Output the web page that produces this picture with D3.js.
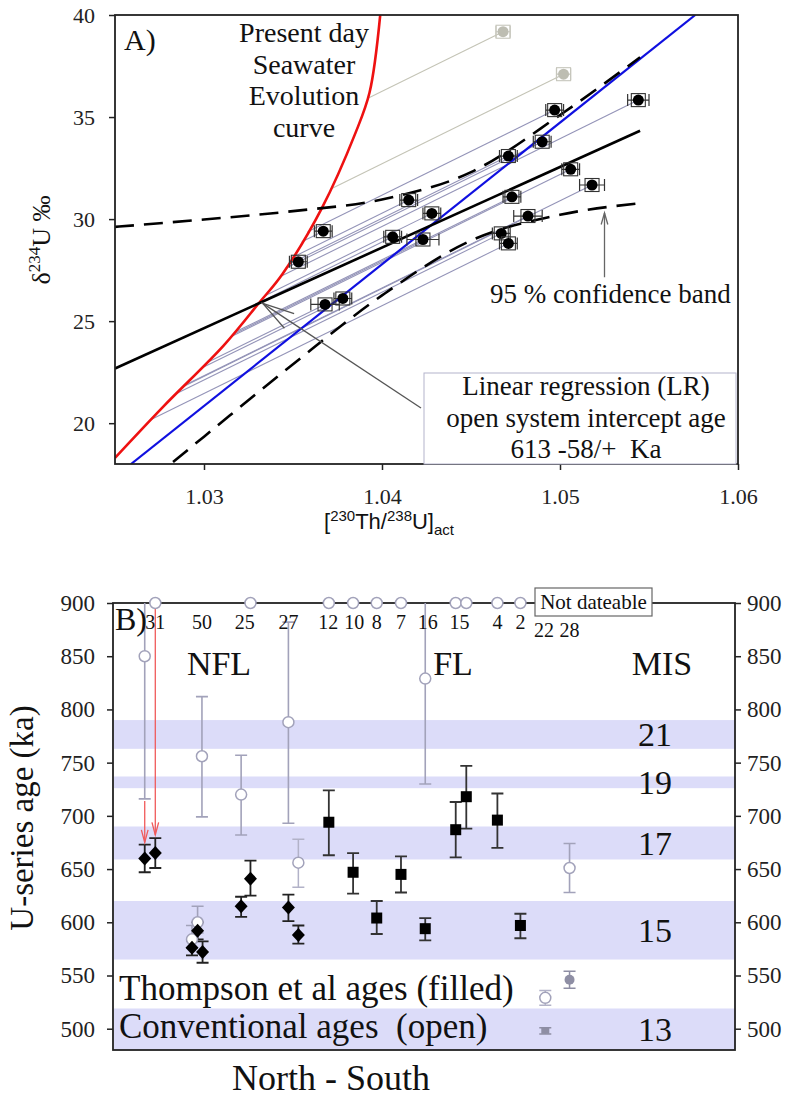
<!DOCTYPE html>
<html>
<head>
<meta charset="utf-8">
<title>Open system U-series ages</title>
<style>
  body { margin: 0; background: #fff; }
  svg { font-family: "Liberation Serif", "Times New Roman", serif; fill: #111; }
  .axis text { font-size: 22px; font-family: "Liberation Serif", serif; fill: #222; }
  .axisB text { font-size: 23px; }
  .axis line { stroke: #222; stroke-width: 1.5; }
  .axis path { display: none; }
  .frame { fill: none; stroke: #222; stroke-width: 1.8; }
</style>
</head>
<body>
<div id="chart"></div>
<script src="https://d3js.org/d3.v7.min.js"></script>
<script>
var width = 793, height = 1097;

// ---------- panel A data ([230Th/238U]act, d234U) ----------
var seawaterCurve = [[1.025, 18.3], [1.0277, 20.8], [1.0311, 23.8], [1.0331, 25.9], [1.0344, 27.3],
                     [1.0366, 30.5], [1.0385, 34.2], [1.0393, 36.2], [1.0399, 40]];
var lrLine = [[1.025, 22.68], [1.0545, 34.33]];
var blueLine = [[1.0259, 18.0], [1.0576, 40]];
var bandUpper = [[1.025, 29.62], [1.030, 29.98], [1.035, 30.39], [1.040, 30.96], [1.045, 32.3], [1.050, 35.1], [1.0545, 37.93]];
var bandLower = [[1.027, 17.2], [1.030, 19.34], [1.035, 22.89], [1.040, 26.26], [1.045, 28.95], [1.050, 30.21], [1.0545, 30.78]];
var evolutionSlope = 430;   // d234U per unit activity ratio
// [x, y, x error]
var samplesA = [
  [1.0353, 27.91, 0.0005], [1.0367, 29.41, 0.0005], [1.0368, 25.82, 0.0008], [1.0378, 26.11, 0.0005],
  [1.0406, 29.13, 0.0005], [1.0415, 30.93, 0.0005], [1.0423, 29.00, 0.0009], [1.0428, 30.28, 0.0005],
  [1.0467, 29.30, 0.0005], [1.0471, 28.81, 0.0005], [1.0471, 33.09, 0.0005], [1.0473, 31.09, 0.0005],
  [1.0482, 30.15, 0.0008], [1.0490, 33.79, 0.0005], [1.0497, 35.34, 0.0005], [1.0506, 32.44, 0.0005],
  [1.0518, 31.67, 0.0007], [1.0544, 35.83, 0.0006]
];
var rejectedA = [[1.0468, 39.18, 0.0004], [1.0502, 37.10, 0.0004]];

// ---------- panel B data (position North->South, age ka) ----------
var sampleLabels = ["31", "50", "25", "27", "12", "10", "8", "7", "16", "15", "4", "2", "22", "28"];
var labelPos     = [6.8, 14.3, 21.2, 28.2, 34.6, 38.8, 42.4, 46.3, 50.6, 55.7, 61.8, 65.5, 69.3, 73.4];
var notDateable  = [6.8, 22.1, 34.7, 38.6, 42.4, 46.3, 55.1, 56.8, 61.8, 65.5];
// [pos, age, low, high]
var conventional = [
  [5.1, 850, 716, 900], [14.3, 756, 699, 812], [20.6, 720, 682, 757], [28.2, 788, 693, 882],
  [50.2, 829, 730, 900], [13.6, 600, 590, 615], [12.7, 584, 576, 597], [73.4, 651, 628, 674]
];
var conventionalPale = [[29.8, 656, 633, 678], [69.5, 529, 522, 536]];
var thompsonDiamonds = [
  [5.1, 660, 647, 673], [6.8, 665, 651, 679], [13.6, 592, 584, 600], [12.7, 576, 569, 583],
  [14.4, 572, 562, 582], [20.6, 615, 605, 624], [22.1, 641, 625, 658], [28.2, 614, 601, 626],
  [29.8, 588, 580, 597]
];
var thompsonSquares = [
  [34.7, 694, 663, 724], [38.6, 647, 627, 665], [42.4, 604, 589, 620], [46.3, 645, 628, 662],
  [50.2, 594, 583, 604], [55.1, 687, 661, 713], [56.8, 718, 688, 747], [61.8, 696, 670, 721],
  [65.5, 597, 585, 608]
];
var greyFilled = [[73.4, 546, 538, 554]];
var greySmall = [[69.5, 498, 495, 501]];
var misStage = ["21", "19", "17", "15", "13"];
var misLow   = [763, 726, 659, 565, 480];
var misHigh  = [790, 737, 690, 620, 519];
// red arrows: [pos, from age, to age]
var shiftArrows = [[6.8, 900, 682], [5.1, 714, 675]];

var svg = d3.select("#chart").append("svg")
    .attr("width", width).attr("height", height);

function arrowHead(g, x1, y1, x2, y2, len, spread, color) {
  var a = Math.atan2(y2 - y1, x2 - x1);
  var p1 = [x2 - len * Math.cos(a - spread), y2 - len * Math.sin(a - spread)];
  var p2 = [x2 - len * Math.cos(a + spread), y2 - len * Math.sin(a + spread)];
  g.append("path")
      .attr("d", "M" + p1 + "L" + x2 + "," + y2 + "L" + p2)
      .attr("fill", "none").attr("stroke", color).attr("stroke-width", 1.3);
}

// ================= Panel A =================
var xA = d3.scaleLinear().domain([1.025, 1.06]).range([115, 738]);
var yA = d3.scaleLinear().domain([18, 40]).range([464, 15]);
var lineA = d3.line().x(function(d) { return xA(d[0]); }).y(function(d) { return yA(d[1]); });
var redAt = d3.scaleLinear().domain(seawaterCurve.map(function(d) { return d[0]; }))
    .range(seawaterCurve.map(function(d) { return d[1]; }));

svg.append("clipPath").attr("id", "clipA").append("rect")
    .attr("x", 115).attr("y", 15).attr("width", 623).attr("height", 449);

var gA = svg.append("g");
var plotA = gA.append("g").attr("clip-path", "url(#clipA)");

// where a sample's evolution line meets the seawater curve
function meetCurve(p) {
  var lo = 1.02, hi = p[0], mid = hi;
  for (var i = 0; i < 50; i++) {
    mid = (lo + hi) / 2;
    var g = p[1] - evolutionSlope * (p[0] - mid) - redAt(mid);
    if (g > 0) lo = mid; else hi = mid;
  }
  return [mid, redAt(mid)];
}

plotA.selectAll(".evo").data(samplesA).enter().append("path")
    .attr("d", function(d) { return lineA([d, meetCurve(d)]); })
    .attr("stroke", "#9494b8").attr("stroke-width", 1.1).attr("fill", "none");
plotA.selectAll(".evoRej").data(rejectedA).enter().append("path")
    .attr("d", function(d) { return lineA([d, meetCurve(d)]); })
    .attr("stroke", "#c4c4b6").attr("stroke-width", 1.1).attr("fill", "none");

plotA.append("path").datum(seawaterCurve)
    .attr("d", d3.line().x(function(d) { return xA(d[0]); }).y(function(d) { return yA(d[1]); })
          .curve(d3.curveCatmullRom.alpha(0.5)))
    .attr("fill", "none").attr("stroke", "#ee1111").attr("stroke-width", 2.6);
plotA.append("path").datum(blueLine).attr("d", lineA)
    .attr("fill", "none").attr("stroke", "#1010e0").attr("stroke-width", 2.2);
plotA.append("path").datum(lrLine).attr("d", lineA)
    .attr("fill", "none").attr("stroke", "#000").attr("stroke-width", 2.6);
[bandUpper, bandLower].forEach(function(b) {
  plotA.append("path").datum(b)
      .attr("d", d3.line().x(function(d) { return xA(d[0]); }).y(function(d) { return yA(d[1]); })
            .curve(d3.curveMonotoneX))
      .attr("fill", "none").attr("stroke", "#000").attr("stroke-width", 2.6)
      .attr("stroke-dasharray", "19,10");
});

function drawPointsA(data, fill, edge) {
  var g = plotA.append("g");
  var pt = g.selectAll("g").data(data).enter().append("g");
  pt.append("path")
      .attr("d", function(d) {
        var a = xA(d[0] - d[2]), b = xA(d[0] + d[2]), y = yA(d[1]);
        return "M" + a + "," + y + "H" + b + "M" + a + "," + (y - 6) + "V" + (y + 6) +
               "M" + b + "," + (y - 6) + "V" + (y + 6);
      })
      .attr("stroke", edge).attr("stroke-width", 1.2).attr("fill", "none");
  pt.append("rect")
      .attr("x", function(d) { return xA(d[0]) - 7; })
      .attr("y", function(d) { return yA(d[1]) - 6.5; })
      .attr("width", 14).attr("height", 13)
      .attr("fill", "none").attr("stroke", edge).attr("stroke-width", 1.1);
  pt.append("circle")
      .attr("cx", function(d) { return xA(d[0]); })
      .attr("cy", function(d) { return yA(d[1]); })
      .attr("r", 5.5).attr("fill", fill);
}
drawPointsA(samplesA, "#000", "#333");
drawPointsA(rejectedA, "#bdbdb2", "#c6c6bc");

// axes A
gA.append("g").attr("class", "axis").attr("transform", "translate(115,0)")
    .call(d3.axisLeft(yA).tickValues([20, 25, 30, 35, 40]).tickSize(6).tickPadding(14).tickSizeOuter(0));
gA.append("g").attr("class", "axis").attr("transform", "translate(0,464)")
    .call(d3.axisBottom(xA).tickValues([1.03, 1.04, 1.05, 1.06]).tickFormat(d3.format(".2f"))
          .tickSize(6).tickPadding(18).tickSizeOuter(0));
gA.append("rect").attr("class", "frame").attr("x", 115).attr("y", 15).attr("width", 623).attr("height", 449);

// annotations A
gA.append("text").attr("x", 124).attr("y", 50).attr("font-size", 30).text("A)");
var swText = ["Present day", "Seawater", "Evolution", "curve"];
gA.selectAll(".sw").data(swText).enter().append("text")
    .attr("x", 304).attr("y", function(d, i) { return 42 + i * 31.5; })
    .attr("text-anchor", "middle").attr("font-size", 28).text(function(d) { return d; });

var cbX = xA(1.0525), cbY1 = yA(27.15), cbY2 = yA(30.3);
gA.append("line").attr("x1", cbX).attr("x2", cbX).attr("y1", cbY1).attr("y2", cbY2)
    .attr("stroke", "#666").attr("stroke-width", 1.3);
arrowHead(gA, cbX, cbY1, cbX, cbY2, 12, 0.28, "#666");
gA.append("text").attr("x", 490).attr("y", 303).attr("font-size", 27).text("95 % confidence band");

var boxX = 424, boxY = 373;
gA.append("rect").attr("x", boxX).attr("y", boxY).attr("width", 312).attr("height", 91)
    .attr("fill", "#fff").attr("stroke", "#b4b4cc").attr("stroke-width", 1);
var lrText = ["Linear regression (LR)", "open system intercept age", "613 -58/+  Ka"];
gA.selectAll(".lr").data(lrText).enter().append("text")
    .attr("x", 586).attr("y", function(d, i) { return 395 + i * 31.5; })
    .attr("text-anchor", "middle").attr("font-size", 27)
    .style("white-space", "pre").text(function(d) { return d; });
var tipX = xA(1.0333), tipY = yA(25.87);
gA.append("line").attr("x1", 421).attr("y1", 408).attr("x2", tipX).attr("y2", tipY)
    .attr("stroke", "#555").attr("stroke-width", 1.3);
arrowHead(gA, 421, 408, tipX, tipY, 33, 0.27, "#555");

// axis titles A
var xt = gA.append("text").attr("x", 389).attr("y", 529).attr("text-anchor", "middle")
    .attr("font-family", "Liberation Sans, Arial, sans-serif").attr("font-size", 22);
xt.append("tspan").text("[");
xt.append("tspan").attr("dy", -8).attr("font-size", 15).text("230");
xt.append("tspan").attr("dy", 8).text("Th/");
xt.append("tspan").attr("dy", -8).attr("font-size", 15).text("238");
xt.append("tspan").attr("dy", 8).text("U]");
xt.append("tspan").attr("dy", 6).attr("font-size", 15).text("act");

var yt = gA.append("text").attr("transform", "translate(50,240) rotate(-90)")
    .attr("text-anchor", "middle").attr("font-size", 26);
yt.append("tspan").text("δ");
yt.append("tspan").attr("dy", -10).attr("font-size", 17).text("234");
yt.append("tspan").attr("dy", 10).text("U ‰");

// ================= Panel B =================
var xB = d3.scaleLinear().domain([0, 100]).range([113, 735]);
var yB = d3.scaleLinear().domain([480, 900]).range([1050, 603]);
var gB = svg.append("g");

gB.selectAll(".band").data(misStage).enter().append("rect")
    .attr("x", xB(0) + 1).attr("width", xB(100) - xB(0) - 1)
    .attr("y", function(d, i) { return yB(misHigh[i]); })
    .attr("height", function(d, i) { return yB(misLow[i]) - yB(misHigh[i]); })
    .attr("fill", "#dcdcf9");

gB.append("g").attr("class", "axis axisB").attr("transform", "translate(113,0)")
    .call(d3.axisLeft(yB).tickValues(d3.range(500, 901, 50)).tickSize(6).tickPadding(12).tickSizeOuter(0));
gB.append("g").attr("class", "axis axisB").attr("transform", "translate(735,0)")
    .call(d3.axisRight(yB).tickValues(d3.range(500, 901, 50)).tickSize(6).tickPadding(6).tickSizeOuter(0));
gB.append("rect").attr("class", "frame").attr("x", 113).attr("y", 603).attr("width", 622).attr("height", 447);

function errBars(data, color, w) {
  gB.append("g").selectAll("path").data(data).enter().append("path")
      .attr("d", function(d) {
        var x = xB(d[0]), lo = yB(d[2]), hi = yB(d[3]);
        return "M" + x + "," + lo + "V" + hi +
               "M" + (x - 6) + "," + lo + "H" + (x + 6) +
               (d[3] < 900 ? "M" + (x - 6) + "," + hi + "H" + (x + 6) : "");
      })
      .attr("fill", "none").attr("stroke", color).attr("stroke-width", w);
}
errBars(conventional, "#a2a2ba", 1.6);
errBars(conventionalPale, "#b2b2c8", 1.5);
errBars(greyFilled, "#8e8ea4", 1.5);
errBars(greySmall, "#8e8ea4", 1.5);
errBars(thompsonDiamonds, "#222", 1.8);
errBars(thompsonSquares, "#333", 1.8);

// red shift arrows
shiftArrows.forEach(function(a) {
  var x = xB(a[0]), y1 = yB(a[1]), y2 = yB(a[2]);
  gB.append("line").attr("x1", x).attr("x2", x).attr("y1", y1).attr("y2", y2)
      .attr("stroke", "#f05a5a").attr("stroke-width", 1.3);
  arrowHead(gB, x, y1, x, y2, 13, 0.26, "#f05a5a");
});

gB.append("g").selectAll("circle").data(conventional.concat(conventionalPale)).enter().append("circle")
    .attr("cx", function(d) { return xB(d[0]); }).attr("cy", function(d) { return yB(d[1]); })
    .attr("r", 5.5).attr("fill", "#fff").attr("stroke", "#a2a2ba").attr("stroke-width", 1.5);
gB.append("g").selectAll("circle").data(notDateable).enter().append("circle")
    .attr("cx", function(d) { return xB(d); }).attr("cy", yB(900))
    .attr("r", 5.5).attr("fill", "#fff").attr("stroke", "#a2a2ba").attr("stroke-width", 1.5);
gB.append("g").selectAll("circle").data(greyFilled).enter().append("circle")
    .attr("cx", function(d) { return xB(d[0]); }).attr("cy", function(d) { return yB(d[1]); })
    .attr("r", 5).attr("fill", "#8e8ea4");
gB.append("g").selectAll("rect").data(greySmall).enter().append("rect")
    .attr("x", function(d) { return xB(d[0]) - 4; }).attr("y", function(d) { return yB(d[1]) - 3; })
    .attr("width", 8).attr("height", 6).attr("fill", "#8e8ea4");
gB.append("g").selectAll("path").data(thompsonDiamonds).enter().append("path")
    .attr("transform", function(d) { return "translate(" + xB(d[0]) + "," + yB(d[1]) + ")"; })
    .attr("d", "M0,-7L6.5,0L0,7L-6.5,0Z").attr("fill", "#000");
gB.append("g").selectAll("rect").data(thompsonSquares).enter().append("rect")
    .attr("x", function(d) { return xB(d[0]) - 5.5; }).attr("y", function(d) { return yB(d[1]) - 5.5; })
    .attr("width", 11).attr("height", 11).attr("fill", "#000");

// "Not dateable" tag
gB.append("rect").attr("x", 535).attr("y", 588).attr("width", 117).attr("height", 28)
    .attr("fill", "#fff").attr("stroke", "#666").attr("stroke-width", 1.2);
gB.append("text").attr("x", 593.5).attr("y", 609).attr("text-anchor", "middle")
    .attr("font-size", 21).text("Not dateable");

// sample labels
gB.selectAll(".slab").data(sampleLabels).enter().append("text")
    .attr("x", function(d, i) { return xB(labelPos[i]); })
    .attr("y", function(d, i) { return i >= 12 ? 637 : 629; })
    .attr("text-anchor", "middle").attr("font-size", 20).text(function(d) { return d; });

gB.append("text").attr("x", 115).attr("y", 630).attr("font-size", 32).text("B)");
gB.append("text").attr("x", 219).attr("y", 675).attr("text-anchor", "middle").attr("font-size", 34).text("NFL");
gB.append("text").attr("x", 453).attr("y", 675).attr("text-anchor", "middle").attr("font-size", 34).text("FL");
gB.append("text").attr("x", 662).attr("y", 675).attr("text-anchor", "middle").attr("font-size", 34).text("MIS");
gB.selectAll(".mis").data(misStage).enter().append("text")
    .attr("x", 655)
    .attr("y", function(d, i) { return yB((misLow[i] + misHigh[i]) / 2) + 12; })
    .attr("text-anchor", "middle").attr("font-size", 34).text(function(d) { return d; });
gB.append("text").attr("x", 119).attr("y", 1000).attr("font-size", 35).text("Thompson et al ages (filled)");
gB.append("text").attr("x", 119).attr("y", 1038).attr("font-size", 35)
    .style("white-space", "pre").text("Conventional ages  (open)");
gB.append("text").attr("x", 331).attr("y", 1090).attr("text-anchor", "middle").attr("font-size", 36).text("North - South");
gB.append("text").attr("transform", "translate(33,818) rotate(-90)")
    .attr("text-anchor", "middle").attr("font-size", 33).text("U-series age (ka)");
</script>
</body>
</html>
